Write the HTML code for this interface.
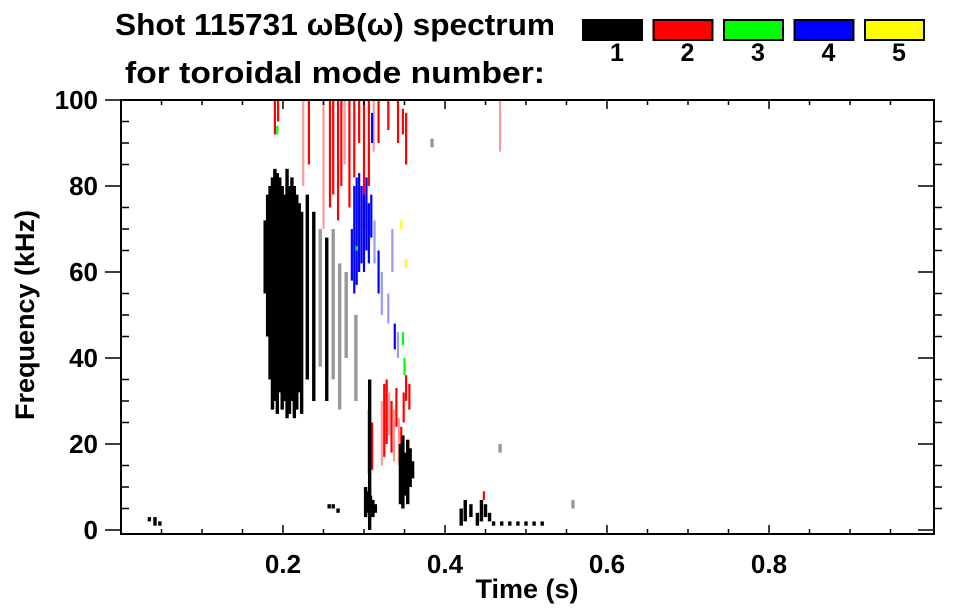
<!DOCTYPE html>
<html><head><meta charset="utf-8">
<style>
html,body{margin:0;padding:0;background:#fff;}
svg{display:block;font-family:"Liberation Sans",sans-serif;font-weight:bold;}
</style></head>
<body>
<svg id="chart" width="963" height="615" viewBox="0 0 963 615" xmlns="http://www.w3.org/2000/svg">
<text x="335" y="35" font-size="31" text-anchor="middle" textLength="440" lengthAdjust="spacingAndGlyphs">Shot 115731 ωB(ω) spectrum</text>
<text x="335" y="83" font-size="31" text-anchor="middle" textLength="420" lengthAdjust="spacingAndGlyphs">for toroidal mode number:</text>
<g id="legend"></g>
<g id="marks"></g>
<g id="axes"></g>
<text x="527" y="598" font-size="27" text-anchor="middle">Time (s)</text>
<text transform="translate(34,315) rotate(-90)" font-size="27" text-anchor="middle">Frequency (kHz)</text>
</svg>
<script>
// Data: spectrogram streaks (time s, freq range kHz, mode number, strength 1=strong 0=weak)
const segT  = [0.178,0.181,0.184,0.187,0.190,0.193,0.196,0.199,0.202,0.205,0.208,0.211,0.214,0.217,0.220,0.223,0.230,0.238,0.246,0.254,0.262,0.270,0.278,0.290,
 0.190,0.194,0.193,0.225,0.232,0.250,0.258,0.262,0.268,0.272,0.276,0.282,0.288,0.294,0.300,0.306,0.312,0.318,0.330,0.342,0.348,0.352,0.468,
 0.285,0.288,0.291,0.294,0.297,0.300,0.303,0.306,0.309,0.313,0.318,0.322,0.330,0.338,0.342,0.310,0.335,
 0.348,0.350,0.291,0.346,0.352,
 0.306,0.310,0.322,0.325,0.328,0.331,0.334,0.337,0.340,0.343,0.346,0.349,0.352,0.356,
 0.345,0.348,0.351,0.354,0.357,0.360,0.302,0.305,0.308,0.311,0.314,0.307,
 0.257,0.262,0.268,0.035,0.042,0.048,0.420,0.425,0.432,0.440,0.445,0.450,0.455,0.460,0.470,0.480,0.490,0.500,0.510,0.520,0.448,0.384,0.558,0.468];
const segF0 = [55,45,35,28,30,27,32,28,30,26,27,30,26,28,32,27,35,30,38,30,35,28,40,30,
 92,95,92,80,85,70,75,78,72,80,85,75,82,90,70,80,88,90,93,90,92,85,88,
 58,55,57,60,62,60,65,62,68,62,55,50,48,42,40,90,60,
 43,36,65,70,61,
 13,14,15,17,20,22,18,16,24,15,14,25,30,28,
 6,5,8,6,10,12,3,4,5,3,4,0,
 5,5,4,2,1,1,1,2,3,1,2,3,2,1,1,1,1,1,1,1,7,89,5,18];
const segF1 = [72,78,80,82,84,83,82,80,78,84,80,82,80,78,76,74,78,74,70,68,70,62,60,50,
 100,100,94,100,100,100,100,100,100,100,100,100,100,100,100,100,100,100,100,100,98,97,100,
 70,80,82,83,80,78,82,76,78,72,65,60,55,48,46,97,70,
 46,40,66,72,63,
 28,25,30,34,35,32,30,28,33,26,24,32,36,34,
 20,22,18,21,19,16,10,9,8,7,6,35,
 6,6,5,3,3,2,5,7,6,4,7,6,4,2,2,2,2,2,2,2,9,91,7,20];
const segMode = [1,1,1,1,1,1,1,1,1,1,1,1,1,1,1,1,1,1,1,1,1,1,1,1,
 2,2,3,2,2,2,2,2,2,2,2,2,2,2,2,2,2,2,2,2,2,2,2,
 4,4,4,4,4,4,4,4,4,4,4,4,4,4,4,4,4,
 3,3,3,5,5,
 2,2,2,2,2,2,2,2,2,2,2,2,2,2,
 1,1,1,1,1,1,1,1,1,1,1,1,
 1,1,1,1,1,1,1,1,1,1,1,1,1,1,1,1,1,1,1,1,2,1,1,1];
const segStrong = [1,1,1,1,1,1,1,1,1,1,1,1,1,1,1,1,1,1,0,1,0,0,0,0,
 1,1,1,0,1,0,1,1,1,1,0,1,1,1,1,1,0,1,1,1,1,1,0,
 1,1,1,1,1,1,1,1,1,0,1,0,0,1,0,1,0,
 1,1,1,1,1,
 1,1,0,1,1,0,1,0,1,0,1,1,1,1,
 1,1,1,1,1,1,1,1,1,1,1,1,
 1,1,1,1,1,1,1,1,1,1,1,1,1,1,1,1,1,1,1,1,1,0,0,0];
const legendLabels = ["1","2","3","4","5"];
const modeColors = ["#000000","#ff0000","#00ff00","#0000ff","#ffff00"];
const weakColors = ["#999999","#ff9999","#99ff99","#9999ff","#ffff99"];
const xMajor = [0.2,0.4,0.6,0.8];
const yMajor = [0,20,40,60,80,100];

const NS="http://www.w3.org/2000/svg";
const L=121,R=934,T=100,B=534;
function xs(t){return L+t*810;}
function ys(f){return 530-f*4.3;}
function mk(tag,attrs,parent){const e=document.createElementNS(NS,tag);for(const k in attrs)e.setAttribute(k,attrs[k]);parent.appendChild(e);return e;}

const marks=document.getElementById('marks');
for(let i=0;i<segT.length;i++){
  const y1=ys(segF1[i]),y0=ys(segF0[i]);
  const w=segMode[i]===1?3.4:2.2;
  const r=mk('rect',{x:xs(segT[i])-w/2,y:y1,width:w,height:Math.max(1.5,y0-y1),
    fill:segStrong[i]?modeColors[segMode[i]-1]:weakColors[segMode[i]-1]},marks);
  
  
}

const leg=document.getElementById('legend');
for(let i=0;i<legendLabels.length;i++){
  const bx=583+i*70.5;
  const r=mk('rect',{x:bx,y:20,width:59,height:20,fill:modeColors[i],stroke:'#000','stroke-width':2},leg);
  
  
  const t=mk('text',{x:bx+34,y:61,'font-size':25,'text-anchor':'middle'},leg);
  t.textContent=legendLabels[i];
  
  
}

const ax=document.getElementById('axes');
const frame=mk('rect',{x:L,y:T,width:R-L,height:B-T,fill:'none',stroke:'#000','stroke-width':2},ax);


const st={stroke:'#000','stroke-width':1.5};
for(let v=0.05;v<1.0;v+=0.05){
  const x=xs(v);const maj=xMajor.some(m=>Math.abs(m-v)<1e-6);
  mk('line',Object.assign({x1:x,x2:x,y1:B,y2:B-(maj?9:5)},st),ax);
  mk('line',Object.assign({x1:x,x2:x,y1:T,y2:T+(maj?9:5)},st),ax);
}
for(const v of xMajor){
  const t=mk('text',{x:xs(v),y:573,'font-size':26,'text-anchor':'middle'},ax);
  t.textContent=v.toFixed(1);
  
  
}
for(let v=0;v<=100;v+=5){
  const y=ys(v);const maj=v%20===0;
  if(maj){
    mk('line',Object.assign({x1:L-16,x2:L,y1:y,y2:y},st),ax);
    mk('line',Object.assign({x1:R,x2:R-16,y1:y,y2:y},st),ax);
  }else{
    mk('line',Object.assign({x1:L,x2:L+8,y1:y,y2:y},st),ax);
    mk('line',Object.assign({x1:R,x2:R+8,y1:y,y2:y},st),ax);
  }
}
for(const v of yMajor){
  const t=mk('text',{x:98,y:ys(v)+9,'font-size':26,'text-anchor':'end'},ax);
  t.textContent=String(v);
  
  
}
</script>
</body></html>
